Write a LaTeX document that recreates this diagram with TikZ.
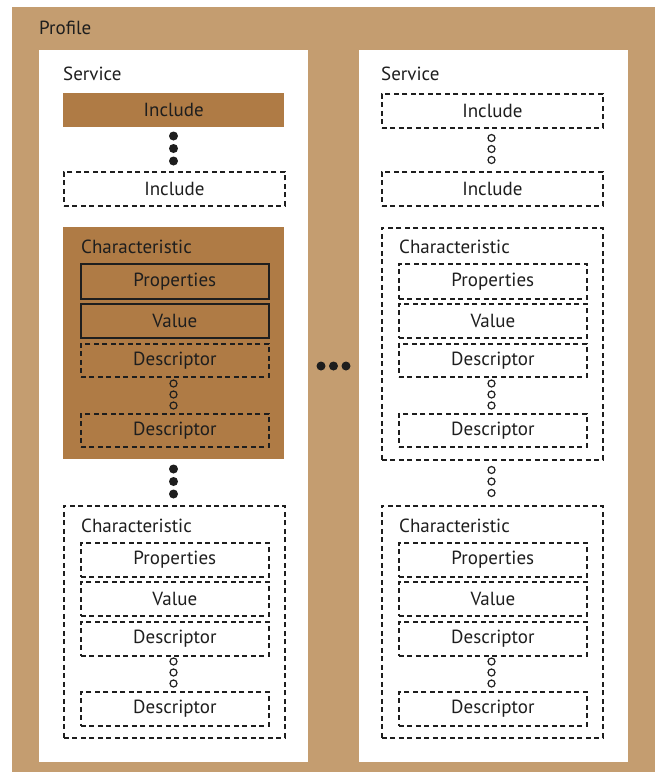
\documentclass[tikz,border=0pt]{standalone}
\usepackage{fontspec}
\setmainfont{PT Sans}
\definecolor{tan}{RGB}{196,157,112}
\definecolor{brownfill}{RGB}{175,123,69}
\definecolor{ink}{RGB}{30,30,30}
\begin{document}
\begin{tikzpicture}[x=1pt,y=-1pt,
  every node/.style={font=\fontsize{19}{22}\selectfont, text=ink},
  box/.style={anchor=north west, inner sep=0pt, line width=1.7pt, draw=ink},
  solidbox/.style={anchor=north west, inner sep=0pt, fill=brownfill},
  dashbox/.style={box, dash pattern=on 5pt off 3.5pt},
  outerbox/.style={anchor=north west, inner sep=0pt, minimum width=221, minimum height=232},
  wide/.style={minimum width=221, minimum height=34},
  narrow/.style={minimum width=188, minimum height=34},
  bigdot/.style={circle, fill=ink, inner sep=0pt, minimum size=9pt},
  smalldot/.style={circle, draw=ink, line width=1.2pt, inner sep=0pt, minimum size=7pt},
  lbl/.style={anchor=west, inner sep=0pt}]
\useasboundingbox (0,0) rectangle (662,772);
% profile background
\fill[tan] (12,7) rectangle (655,772);
\node[lbl] (profile) at (39,28) {Profile};
% panels
\fill[white] (39,50) rectangle (308,762);
\fill[white] (359,50) rectangle (628,762);
% middle dots
\node[bigdot] (m1) at (321,366) {};
\node[bigdot] (m2) at (333.5,366) {};
\node[bigdot] (m3) at (346,366) {};

% ---------- left service ----------
\node[lbl] (svcL) at (63,74) {Service};
\node[solidbox, wide] (incL1) at (63,93) {Include};
\node[bigdot] (dL1) at (173.5,136) {};
\node[bigdot] (dL2) at (173.5,148.5) {};
\node[bigdot] (dL3) at (173.5,161) {};
\node[dashbox, wide] (incL2) at (63,171) {Include};

\node[outerbox, fill=brownfill] (chL1) at (63,227) {};
\node[lbl] (chL1t) at (81,247) {Characteristic};
\node[box, narrow, minimum height=35] (prL1) at (80,263) {Properties};
\node[box, narrow] (vaL1) at (80,303) {Value};
\node[dashbox, narrow, minimum height=33] (deL1a) at (80,343) {Descriptor};
\node[smalldot] (cL1a) at (173.5,383.5) {};
\node[smalldot] (cL1b) at (173.5,394.5) {};
\node[smalldot] (cL1c) at (173.5,405.5) {};
\node[dashbox, narrow, minimum height=33] (deL1b) at (80,413) {Descriptor};

\node[bigdot] (dL4) at (173.5,469) {};
\node[bigdot] (dL5) at (173.5,481.5) {};
\node[bigdot] (dL6) at (173.5,494) {};

\node[outerbox, dashbox] (chL2) at (63,505) {};
\node[lbl] (chL2t) at (81,526) {Characteristic};
\node[dashbox, narrow] (prL2) at (80,542) {Properties};
\node[dashbox, narrow] (vaL2) at (80,581) {Value};
\node[dashbox, narrow] (deL2a) at (80,621) {Descriptor};
\node[smalldot] (cL2a) at (173.5,661.5) {};
\node[smalldot] (cL2b) at (173.5,672.5) {};
\node[smalldot] (cL2c) at (173.5,683.5) {};
\node[dashbox, narrow] (deL2b) at (80,691) {Descriptor};

% ---------- right service ----------
\node[lbl] (svcR) at (381,74) {Service};
\node[dashbox, wide] (incR1) at (381,93) {Include};
\node[smalldot] (dR1) at (491.5,138) {};
\node[smalldot] (dR2) at (491.5,149) {};
\node[smalldot] (dR3) at (491.5,160) {};
\node[dashbox, wide] (incR2) at (381,171) {Include};

\node[outerbox, dashbox] (chR1) at (381,227) {};
\node[lbl] (chR1t) at (399,247) {Characteristic};
\node[dashbox, narrow, minimum height=35] (prR1) at (398,263) {Properties};
\node[dashbox, narrow] (vaR1) at (398,303) {Value};
\node[dashbox, narrow, minimum height=33] (deR1a) at (398,343) {Descriptor};
\node[smalldot] (cR1a) at (491.5,383.5) {};
\node[smalldot] (cR1b) at (491.5,394.5) {};
\node[smalldot] (cR1c) at (491.5,405.5) {};
\node[dashbox, narrow, minimum height=33] (deR1b) at (398,413) {Descriptor};

\node[smalldot] (dR4) at (491.5,470) {};
\node[smalldot] (dR5) at (491.5,481.5) {};
\node[smalldot] (dR6) at (491.5,493) {};

\node[outerbox, dashbox] (chR2) at (381,505) {};
\node[lbl] (chR2t) at (399,526) {Characteristic};
\node[dashbox, narrow] (prR2) at (398,542) {Properties};
\node[dashbox, narrow] (vaR2) at (398,581) {Value};
\node[dashbox, narrow] (deR2a) at (398,621) {Descriptor};
\node[smalldot] (cR2a) at (491.5,661.5) {};
\node[smalldot] (cR2b) at (491.5,672.5) {};
\node[smalldot] (cR2c) at (491.5,683.5) {};
\node[dashbox, narrow] (deR2b) at (398,691) {Descriptor};
\end{tikzpicture}
\end{document}
